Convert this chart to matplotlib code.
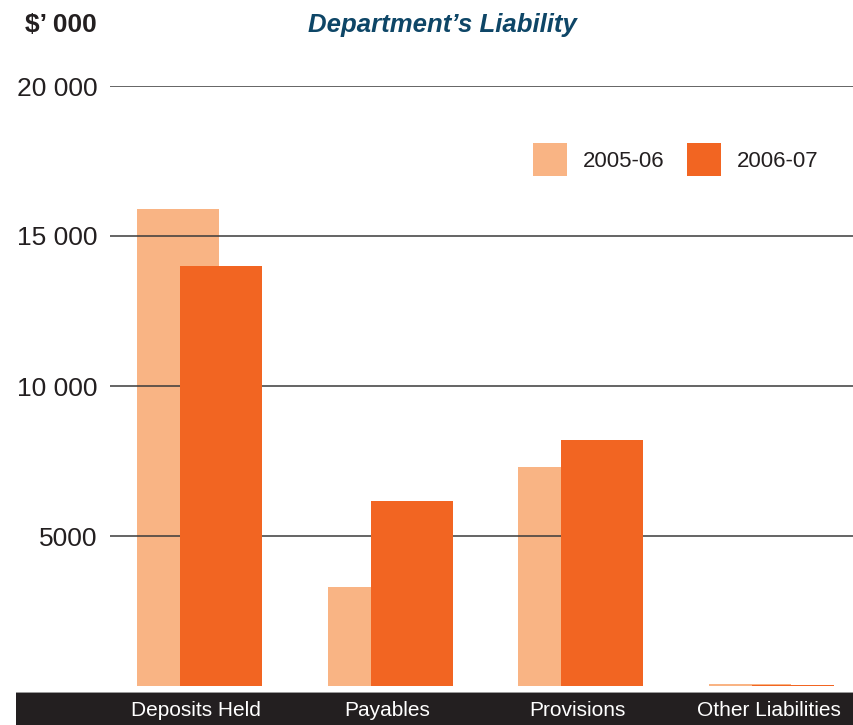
import matplotlib
matplotlib.use("Agg")
import matplotlib.pyplot as plt
from matplotlib.patches import Rectangle
import matplotlib.transforms as mtransforms
import numpy as np

plt.rcParams['font.family'] = ['Liberation Sans', 'DejaVu Sans']

categories = ['Deposits Held', 'Payables', 'Provisions', 'Other Liabilities']
years = ['2005-06', '2006-07']
liab_2005 = [15900, 3310, 7310, 70]
liab_2006 = [14010, 6180, 8200, 35]
yticks = [5000, 10000, 15000, 20000]
ytick_labels = ['5000', '10 000', '15 000', '20 000']

light = '#f9b484'
dark = '#f26522'
ink = '#231f20'

fig = plt.figure(figsize=(8.54, 7.25), dpi=100)
ax = fig.add_axes([110 / 854, 39 / 725, 744 / 854, 600 / 725])
ax.set_zorder(2)
ax.patch.set_visible(False)

x = np.arange(len(categories))
w = 0.43
off = 0.1128
ax.bar(x - off, liab_2005, w, color=light, label=years[0], zorder=1)
ax.bar(x + off, liab_2006, w, color=dark, label=years[1], zorder=3)

ax.set_ylim(0, 20000)
ax.set_xlim(-0.468, 3.432)
ax.set_yticks(yticks)
ax.set_yticklabels(ytick_labels)
ax.yaxis.grid(True, color='#3a3a3a', linewidth=1.1, zorder=2)
ax.set_axisbelow(False)
ax.tick_params(axis='y', length=0, pad=9, labelsize=19, labelcolor=ink)
ax.set_xticks(x)
ax.set_xticklabels(categories)
ax.tick_params(axis='x', length=0, pad=11, labelsize=15, labelcolor='white')
# nudge category names a little to the left
shift = mtransforms.ScaledTranslation(-3 / 100, 0, fig.dpi_scale_trans)
for lbl in ax.get_xticklabels():
    lbl.set_transform(lbl.get_transform() + shift)
for s in ax.spines.values():
    s.set_visible(False)

# dark strip behind the category names
fig.patches.append(Rectangle((16 / 854, 0), 1, 33 / 725, transform=fig.transFigure,
                             facecolor=ink, edgecolor='none', zorder=0))
fig.patches.append(Rectangle((16 / 854, 32 / 725), 1, 1.5 / 725, transform=fig.transFigure,
                             facecolor='#9a9a9a', edgecolor='none', zorder=0))

ax.legend(loc='upper left', bbox_to_anchor=(423 / 744, 1 - 57 / 600), ncol=2,
          frameon=False, fontsize=16, handlelength=1.55, handleheight=1.9,
          handletextpad=0.7, columnspacing=1.0, borderaxespad=0, borderpad=0,
          labelcolor=ink)

fig.text(25 / 854, 1 - 25 / 725, "$\u2019 000", fontsize=19, fontweight='bold',
         color=ink, va='center', ha='left')
fig.text(442 / 854, 1 - 25 / 725, "Department\u2019s Liability", fontsize=18.5,
         fontweight='bold', fontstyle='italic', color='#0e4667', va='center', ha='center')

fig.savefig('out.png', dpi=100)
